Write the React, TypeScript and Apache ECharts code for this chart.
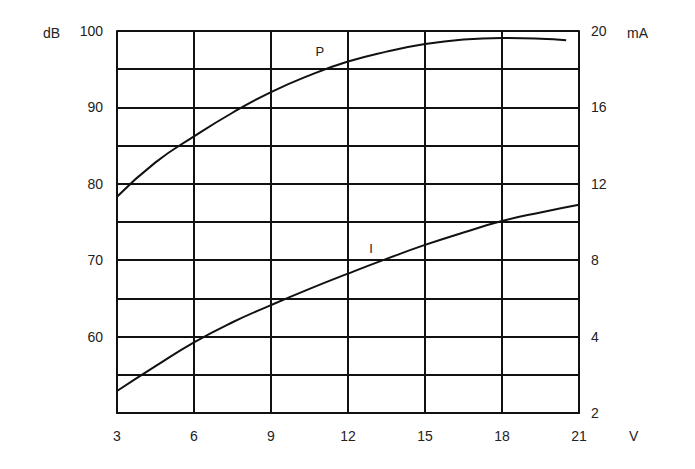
import React, { useEffect, useRef } from "react";
import * as echarts from "echarts";

// Voltage axis (V)
const voltageMin = 3;
const voltageMax = 21;
const voltageStep = 3;

// Left axis (dB)
const dbMin = 50;
const dbMax = 100;
const dbStep = 5;
const dbLabelled = [60, 70, 80, 90, 100];

// Right axis (mA) – tick positions and the labels printed at them
const maMin = 0;
const maMax = 20;
const maStep = 2;
const maTickValues = [0, 4, 8, 12, 16, 20];
const maTickLabels = ["2", "4", "8", "12", "16", "20"];

// Curve P (dB vs V)
const pVolts = [3, 4.5, 6, 7.5, 9, 10.5, 12, 13.5, 15, 16.5, 18, 19.5, 20.5];
const pDb = [78.3, 82.8, 86.2, 89.3, 92.0, 94.2, 96.0, 97.3, 98.3, 98.9, 99.1, 99.0, 98.8];

// Curve I (mA vs V)
const iVolts = [3, 4.5, 6, 7.5, 9, 10.5, 12, 13.5, 15, 16.5, 18, 19.5, 21];
const iMa = [1.15, 2.45, 3.7, 4.75, 5.65, 6.5, 7.3, 8.07, 8.8, 9.45, 10.05, 10.5, 10.9];

// Curve name labels placed in data space
const pLabelAt = [10.9, 97.3];
const iLabelAt = [12.9, 8.6];

const FONT = "'Liberation Sans', Arial, Helvetica, sans-serif";
const TEXT = "#222";
const LINE = "#111";

export default function App() {
  const ref = useRef<HTMLDivElement>(null);

  useEffect(() => {
    if (!ref.current) return;
    const chart = echarts.init(ref.current, undefined, { renderer: "svg" });
    const textStyle = { color: TEXT, fontFamily: FONT, fontSize: 14 };
    chart.setOption({
      animation: false,
      backgroundColor: "#fff",
      grid: { left: 117, right: 116, top: 31, bottom: 56, containLabel: false },
      xAxis: {
        type: "value",
        min: voltageMin,
        max: voltageMax,
        interval: voltageStep,
        axisLine: { show: true, lineStyle: { color: LINE, width: 2 } },
        axisTick: { show: false },
        axisLabel: { ...textStyle, margin: 16 },
        splitLine: { show: true, lineStyle: { color: LINE, width: 2 } },
      },
      yAxis: [
        {
          type: "value",
          min: dbMin,
          max: dbMax,
          interval: dbStep,
          position: "left",
          axisLine: { show: true, lineStyle: { color: LINE, width: 2 } },
          axisTick: { show: false },
          axisLabel: {
            ...textStyle,
            margin: 14,
            formatter: (v: number) => (dbLabelled.includes(v) ? String(v) : ""),
          },
          splitLine: { show: true, lineStyle: { color: LINE, width: 2 } },
        },
        {
          type: "value",
          min: maMin,
          max: maMax,
          interval: maStep,
          position: "right",
          axisLine: { show: true, lineStyle: { color: LINE, width: 2 } },
          axisTick: { show: false },
          axisLabel: {
            ...textStyle,
            margin: 12,
            formatter: (v: number) => {
              const k = maTickValues.indexOf(v);
              return k >= 0 ? maTickLabels[k] : "";
            },
          },
          splitLine: { show: false },
        },
      ],
      graphic: [
        { type: "text", left: 43, top: 26, style: { text: "dB", fill: TEXT, font: `14px ${FONT}` } },
        { type: "text", left: 627, top: 26, style: { text: "mA", fill: TEXT, font: `14px ${FONT}` } },
        { type: "text", left: 629, top: 429, style: { text: "V", fill: TEXT, font: `14px ${FONT}` } },
      ],
      series: [
        {
          name: "P",
          type: "line",
          yAxisIndex: 0,
          data: pVolts.map((v, k) => [v, pDb[k]]),
          smooth: 0.5,
          showSymbol: false,
          lineStyle: { color: LINE, width: 2 },
          markPoint: {
            symbol: "circle",
            symbolSize: 0,
            label: { show: true, position: "inside", formatter: "P", color: TEXT, fontFamily: FONT, fontSize: 13 },
            data: [{ coord: pLabelAt }],
          },
        },
        {
          name: "I",
          type: "line",
          yAxisIndex: 1,
          data: iVolts.map((v, k) => [v, iMa[k]]),
          smooth: 0.5,
          showSymbol: false,
          lineStyle: { color: LINE, width: 2 },
          markPoint: {
            symbol: "circle",
            symbolSize: 0,
            label: { show: true, position: "inside", formatter: "I", color: TEXT, fontFamily: FONT, fontSize: 13 },
            data: [{ coord: iLabelAt }],
          },
        },
      ],
    });
    return () => chart.dispose();
  }, []);

  return (
    <div
      ref={ref}
      style={{ position: "fixed", left: 0, top: 0, width: 695, height: 469, background: "#fff" }}
    />
  );
}
